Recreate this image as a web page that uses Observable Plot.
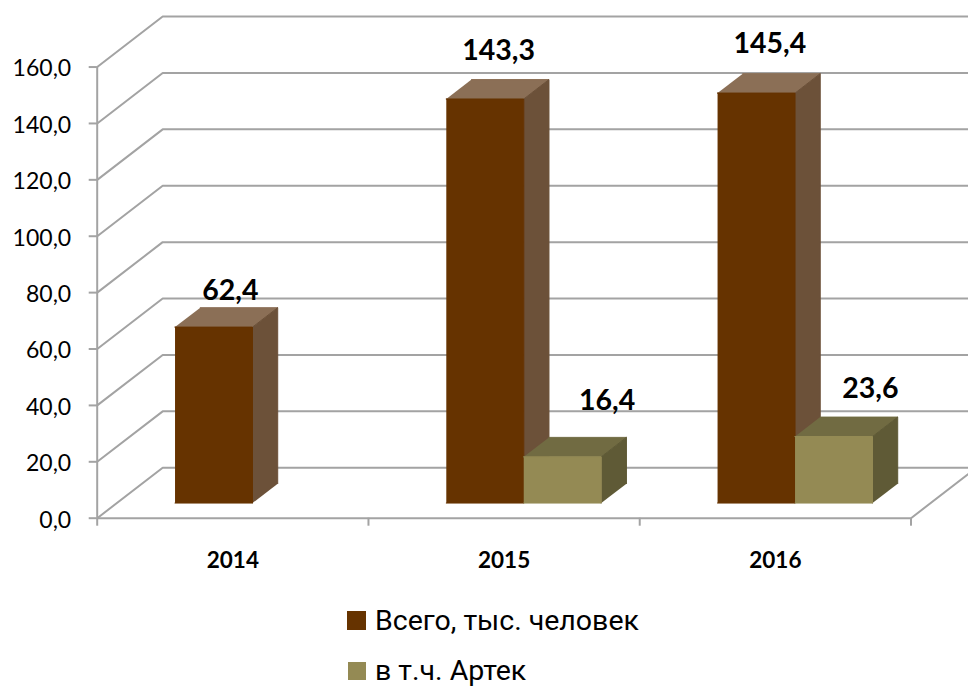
<!DOCTYPE html>
<html>
<head>
<meta charset="utf-8">
<script src="https://cdn.jsdelivr.net/npm/d3@7"></script>
<script src="https://cdn.jsdelivr.net/npm/@observablehq/plot@0.6"></script>
<style>
html,body{margin:0;padding:0;background:#fff;overflow:hidden}
#legend{position:relative;height:96px;font-family:Roboto,"Noto Sans",sans-serif;font-size:28.5px;color:#000}
.row{position:absolute;white-space:nowrap;line-height:28px}
.sw{position:absolute}
</style>
</head>
<body>
<div id="chart"></div>
<div id="legend"></div>
<script>
const years = ["2014", "2015", "2016"];
const seriesNames = ["Всего, тыс. человек", "в т.ч. Артек"];
const totalValues = [62.4, 143.3, 145.4];
const artekValues = [null, 16.4, 23.6];
const yTicks = [0, 20, 40, 60, 80, 100, 120, 140, 160];

const frontColors = ["#663300", "#948a54"];
const topColors = ["#8b6f56", "#716b42"];
const sideColors = ["#6c5139", "#5f5a36"];

// projection of the depth axis into chart units
const depthX = 0.2414, depthY = 17.9;
const barStart = 0.2145, barWidth = 0.2856, depthFront = 0.3, depthBack = 0.685;
const gridColor = "#a3a3a3";
const xMax = 3.212;

const P = (c, v, d) => ({x: c + d * depthX, y: v + d * depthY});
const lineOpts = (color) => ({x: "x", y: "y", fill: color, stroke: color, strokeWidth: 1, curve: "linear"});

const gridLines = yTicks.map((v) => Plot.line(
  [P(0, v, 0), P(0, v, 1), P(xMax, v, 1)],
  {x: "x", y: "y", stroke: gridColor, strokeWidth: 2, curve: "linear"}
));

const barMarks = [];
years.forEach((year, i) => {
  [totalValues, artekValues].forEach((values, s) => {
    const v = values[i];
    if (v == null) return;
    const c0 = i + barStart + s * barWidth, c1 = c0 + barWidth;
    barMarks.push(
      Plot.line([P(c0, v, depthFront), P(c1, v, depthFront), P(c1, v, depthBack), P(c0, v, depthBack)], lineOpts(topColors[s])),
      Plot.line([P(c1, 0, depthFront), P(c1, v, depthFront), P(c1, v, depthBack), P(c1, 0, depthBack)], lineOpts(sideColors[s])),
      Plot.line([P(c0, 0, depthFront), P(c1, 0, depthFront), P(c1, v, depthFront), P(c0, v, depthFront)], lineOpts(frontColors[s]))
    );
  });
});

const comma = (v) => v.toFixed(1).replace(".", ",");
// hand-placed data labels, as pixel nudges from the centre of each bar's top
const labelNudges = [[[4, -17], null], [[1, -29], [32, -37]], [[1, -30], [24, -28]]];
const labelMarks = [];
years.forEach((year, i) => {
  [totalValues, artekValues].forEach((values, s) => {
    const v = values[i];
    if (v == null) return;
    const n = labelNudges[i][s];
    const c = i + barStart + s * barWidth + barWidth / 2;
    labelMarks.push(Plot.text([P(c, v, depthBack)], {
      x: (d) => d.x - 0.5 * (depthBack - depthFront) * depthX, y: "y", text: () => comma(v),
      dx: n[0], dy: n[1], fontSize: 28.5, fontWeight: 700, fill: "#000"
    }));
  });
});

const chart = Plot.plot({
  width: 968,
  height: 590,
  marginLeft: 96.7,
  marginRight: 0,
  marginTop: 0,
  marginBottom: 72.3,
  style: {fontFamily: "Lato, Carlito, sans-serif", background: "#fff", overflow: "hidden"},
  x: {domain: [0, xMax]},
  y: {domain: [0, 183.6]},
  marks: [
    ...gridLines,
    Plot.line([P(3, 0, 0), P(3, 0, 1)], {x: "x", y: "y", stroke: gridColor, strokeWidth: 2}),
    Plot.ruleY([0], {x1: 0, x2: 3, stroke: gridColor, strokeWidth: 2}),
    Plot.ruleX([0], {y1: 0, y2: 160, stroke: gridColor, strokeWidth: 2}),
    Plot.axisY({anchor: "left", ticks: yTicks, tickFormat: () => "", tickSize: 8, stroke: gridColor, strokeWidth: 2, label: null}),
    Plot.axisY({anchor: "left", ticks: yTicks, tickFormat: comma, tickSize: 0, tickPadding: 26, fill: "#000", fontSize: 23, dy: 2, label: null}),
    Plot.axisX({anchor: "bottom", ticks: [0, 1, 2, 3], tickFormat: () => "", tickSize: 8, stroke: gridColor, strokeWidth: 2, label: null}),
    Plot.axisX({anchor: "bottom", ticks: years.map((y, i) => i + 0.5), tickFormat: (t) => years[Math.floor(t)], tickSize: 0, tickPadding: 34, fill: "#000", fontSize: 22.5, fontWeight: 700, label: null}),
    ...barMarks,
    ...labelMarks
  ]
});
document.getElementById("chart").appendChild(chart);
chart.style.display = "block";

const legend = document.getElementById("legend");
seriesNames.forEach((name, i) => {
  const top = i === 0 ? 17 : 67;
  const sw = document.createElement("div");
  sw.className = "sw";
  sw.style.cssText = `left:${i === 0 ? 347 : 348}px;top:${i === 0 ? 21 : 72}px;width:${i === 0 ? 19 : 18}px;height:${i === 0 ? 19 : 18}px;background:${frontColors[i]}`;
  legend.appendChild(sw);
  const row = document.createElement("div");
  row.className = "row";
  row.style.cssText = `left:375px;top:${top}px`;
  row.textContent = name;
  legend.appendChild(row);
});
</script>
</body>
</html>
